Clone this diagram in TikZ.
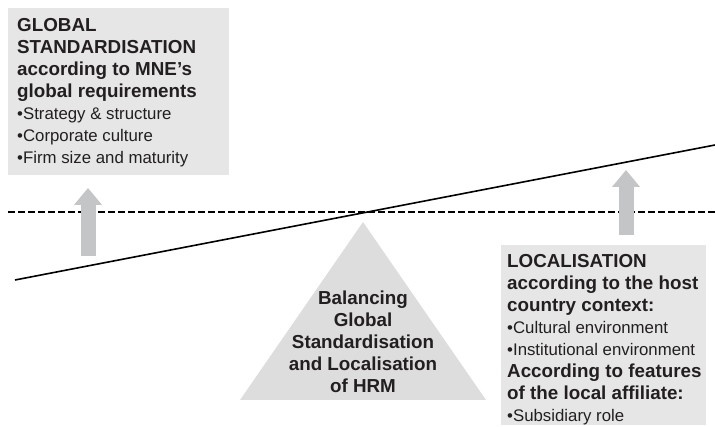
\documentclass[tikz,border=0pt]{standalone}
\usepackage{fontspec}
\setmainfont{Liberation Sans}
\usetikzlibrary{arrows.meta}
\definecolor{boxgray}{HTML}{E6E6E7}
\definecolor{trigray}{HTML}{DDDDDE}
\definecolor{arrowgray}{HTML}{C4C5C7}
\definecolor{inkgray}{HTML}{231F20}
\newcommand{\headfont}{\fontsize{18.8}{22}\selectfont\bfseries}
\newcommand{\listfont}{\fontsize{16.8}{22}\selectfont\mdseries}

\begin{document}
\begin{tikzpicture}[x=1pt, y=1pt, text=inkgray,
         panel/.style={fill=boxgray, inner sep=0pt, anchor=north west},
         paneltext/.style={inner sep=0pt, align=left, font=\headfont},
         levelline/.style={line width=1.4pt, dash pattern=on 7pt off 3pt},
         beamline/.style={line width=1.6pt},
         lift/.style={arrowgray, line width=15pt, -{Triangle[length=17pt, width=27pt]}}]
         \useasboundingbox (0,0) rectangle (715,427);

         \node (globalbox) at (8,419) [panel, minimum width=221pt, minimum height=167pt]{};
         \node (localbox) at (501,182) [panel, minimum width=205pt, minimum height=180pt]{};
         \fill[trigray] (240,27) -- (363,205) -- (486,27) -- cycle;

         \coordinate (levelL) at (8,215);
         \coordinate (levelR) at (715,215);
         \coordinate (beamL) at (15,147);
         \coordinate (beamR) at (715,282);
         \draw[levelline] (levelL) -- (levelR);
         \draw[beamline] (beamL) -- (beamR);

         \coordinate (liftLfoot) at (88,171);
         \coordinate (liftLtip) at (88,239);
         \coordinate (liftRfoot) at (626,192);
         \coordinate (liftRtip) at (626,257);
         \draw[lift] (liftLfoot) -- (liftLtip);
         \draw[lift] (liftRfoot) -- (liftRtip);

         \node (globaltext) at (17,408.5) [paneltext, anchor=north west]{GLOBAL\\ STANDARDISATION\\ according to MNE’s\\ global requirements\\ {\listfont\textbullet Strategy \& structure}\\ {\listfont\textbullet Corporate culture}\\ {\listfont\textbullet Firm size and maturity}};
         \node (localtext) at (507,172.5) [paneltext, anchor=north west]{LOCALISATION\\ according to the host\\ country context:\\ {\listfont\textbullet Cultural environment}\\ {\listfont\textbullet Institutional environment}\\ According to features\\ of the local affiliate:\\ {\listfont\textbullet Subsidiary role}};
         \node (balance) at (363,136.5) [inner sep=0pt, anchor=north, align=center, font=\headfont]{Balancing\\ Global\\ Standardisation\\ and Localisation\\ of HRM};
\end{tikzpicture}
\end{document}
